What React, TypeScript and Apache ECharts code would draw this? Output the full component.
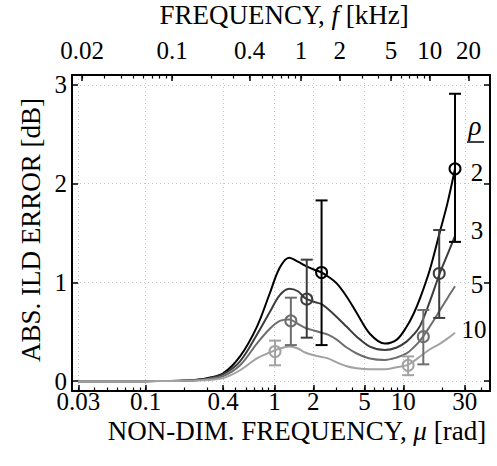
import React, { useEffect, useRef } from "react";
import * as echarts from "echarts";

// ---- data ----
const MU = [0.03, 0.06, 0.1, 0.15, 0.2, 0.25, 0.3, 0.4, 0.54, 0.73, 0.92, 1.1, 1.3, 1.52, 1.73, 2.06, 2.32, 2.6, 3.04, 3.64, 4.35, 5.5, 7.2, 8.9, 10.6, 12, 13.5, 16, 19.3, 22, 25.2];
const RHO2 = [0, 0, 0, 0.002, 0.006, 0.015, 0.03, 0.08, 0.25, 0.55, 0.89, 1.15, 1.25, 1.21, 1.17, 1.125, 1.1, 1.06, 0.99, 0.855, 0.69, 0.48, 0.38, 0.42, 0.55, 0.68, 0.84, 1.12, 1.52, 1.8, 2.15];
const RHO3 = [0, 0, 0, 0.002, 0.005, 0.012, 0.025, 0.07, 0.2, 0.47, 0.7, 0.87, 0.935, 0.91, 0.84, 0.8, 0.78, 0.73, 0.65, 0.55, 0.45, 0.35, 0.315, 0.34, 0.4, 0.47, 0.56, 0.8, 1.1, 1.28, 1.47];
const RHO5 = [0, 0, 0, 0.002, 0.004, 0.009, 0.02, 0.05, 0.16, 0.38, 0.53, 0.61, 0.625, 0.58, 0.54, 0.51, 0.49, 0.47, 0.42, 0.34, 0.28, 0.23, 0.215, 0.24, 0.28, 0.34, 0.41, 0.55, 0.72, 0.84, 0.96];
const RHO10 = [0, 0, 0, 0.001, 0.003, 0.006, 0.012, 0.03, 0.11, 0.23, 0.29, 0.33, 0.35, 0.33, 0.29, 0.26, 0.245, 0.23, 0.19, 0.15, 0.13, 0.12, 0.12, 0.14, 0.16, 0.2, 0.25, 0.32, 0.38, 0.43, 0.49];

// markers: [mu, value, low, high]
const MARK2 = [[2.32, 1.1, 0.365, 1.83], [25.2, 2.15, 1.41, 2.91]];
const MARK3 = [[1.78, 0.83, 0.44, 1.23], [19.0, 1.09, 0.64, 1.53]];
const MARK5 = [[1.34, 0.61, 0.365, 0.845], [14.3, 0.45, 0.17, 0.72]];
const MARK10 = [[1.01, 0.3, 0.16, 0.41], [10.9, 0.16, 0.06, 0.25]];

const RHO_LABELS = ["2", "3", "5", "10"];
const COLORS = ["#000000", "#3c3c3c", "#6e6e6e", "#a2a2a2"];

const BOTTOM_LABELS = [0.03, 0.1, 0.4, 1, 2, 5, 10, 30];
const BOTTOM_MINOR = [0.03, 0.04, 0.05, 0.06, 0.07, 0.08, 0.09, 0.1, 0.2, 0.3, 0.4, 0.5, 0.6, 0.7, 0.8, 0.9, 1, 2, 3, 4, 5, 6, 7, 8, 9, 10, 20, 30, 40];
const TOP_LABELS_KHZ = [0.02, 0.1, 0.4, 1, 2, 5, 10, 20];
const TOP_MINOR_KHZ = [0.02, 0.03, 0.04, 0.05, 0.06, 0.07, 0.08, 0.09, 0.1, 0.2, 0.3, 0.4, 0.5, 0.6, 0.7, 0.8, 0.9, 1, 2, 3, 4, 5, 6, 7, 8, 9, 10, 20];
const Y_TICKS = [0, 1, 2, 3];
const MU_PER_KHZ = 1.603;
const MU_MIN = 0.0268;
const MU_MAX = 47.1;

const FONT = "Liberation Serif";
const FS = 25;
const FS_TITLE = 27;

const lg = (v: number) => Math.log10(v);

function nearestLabel(v: number, labels: number[], scale: number) {
  let best = labels[0];
  let bd = Infinity;
  for (const l of labels) {
    const d = Math.abs(lg(l * scale) - v);
    if (d < bd) {
      bd = d;
      best = l;
    }
  }
  return String(best);
}

export default function App() {
  const ref = useRef<HTMLDivElement>(null);
  useEffect(() => {
    if (!ref.current) return;
    const chart = echarts.init(ref.current, undefined, { renderer: "svg" });
    const xMin = lg(MU_MIN);
    const xMax = lg(MU_MAX);
    const axisLine = (show: boolean) => ({ show, onZero: false, lineStyle: { color: "#000", width: 2 } });
    const labelBase = { fontFamily: FONT, fontSize: FS, color: "#000", lineHeight: 18 };

    const series: any[] = [];
    const curves = [RHO2, RHO3, RHO5, RHO10];
    const marks = [MARK2, MARK3, MARK5, MARK10];
    curves.forEach((vals, k) => {
      series.push({
        type: "line",
        xAxisIndex: 0,
        yAxisIndex: 0,
        data: MU.map((m, i) => [lg(m), vals[i]]),
        showSymbol: false,
        smooth: 0.35,
        lineStyle: { color: COLORS[k], width: 2 },
        z: 5 + k,
      });
    });
    marks.forEach((mk, k) => {
      series.push({
        type: "custom",
        xAxisIndex: 0,
        yAxisIndex: 0,
        data: mk.map((d) => [lg(d[0]), d[2], d[3]]),
        encode: { x: 0, y: [1, 2] },
        z: 12,
        renderItem: (params: any, api: any) => {
          const x = api.value(0);
          const lo = api.coord([x, api.value(1)]);
          const hi = api.coord([x, api.value(2)]);
          const w = 6;
          const st = { stroke: COLORS[k], lineWidth: 2 };
          return {
            type: "group",
            children: [
              { type: "line", shape: { x1: lo[0], y1: lo[1], x2: hi[0], y2: hi[1] }, style: st },
              { type: "line", shape: { x1: lo[0] - w, y1: lo[1], x2: lo[0] + w, y2: lo[1] }, style: st },
              { type: "line", shape: { x1: hi[0] - w, y1: hi[1], x2: hi[0] + w, y2: hi[1] }, style: st },
            ],
          };
        },
      });
      series.push({
        type: "scatter",
        xAxisIndex: 0,
        yAxisIndex: 0,
        data: mk.map((d) => [lg(d[0]), d[1]]),
        symbol: "circle",
        symbolSize: 11,
        itemStyle: { color: "rgba(0,0,0,0)", borderColor: COLORS[k], borderWidth: 2, opacity: 1 },
        z: 13,
      });
    });

    const option: any = {
      animation: false,
      backgroundColor: "#fff",
      grid: { left: 72, right: 7, top: 75, bottom: 75, containLabel: false },
      xAxis: [
        {
          type: "value",
          position: "bottom",
          min: xMin,
          max: xMax,
          axisLine: axisLine(true),
          axisTick: { show: true, inside: true, length: 6, customValues: BOTTOM_LABELS.map(lg), lineStyle: { color: "#000", width: 1.5 } },
          axisLabel: {
            ...labelBase,
            customValues: BOTTOM_LABELS.map(lg),
            margin: 1,
            formatter: (v: number) => nearestLabel(v, BOTTOM_LABELS, 1),
          },
          splitLine: { show: true, lineStyle: { type: [1, 3], color: "#c4c4c4", width: 1 } },
        },
        {
          type: "value",
          position: "top",
          min: xMin,
          max: xMax,
          axisLine: axisLine(true),
          axisTick: { show: true, inside: true, length: 6, customValues: TOP_LABELS_KHZ.map((f) => lg(f * MU_PER_KHZ)), lineStyle: { color: "#000", width: 1.5 } },
          axisLabel: {
            ...labelBase,
            customValues: TOP_LABELS_KHZ.map((f) => lg(f * MU_PER_KHZ)),
            margin: 16,
            formatter: (v: number) => nearestLabel(v, TOP_LABELS_KHZ, MU_PER_KHZ),
          },
          splitLine: { show: false },
        },
        {
          type: "value",
          position: "bottom",
          min: xMin,
          max: xMax,
          axisLine: axisLine(false),
          axisTick: { show: true, inside: true, length: 3.5, customValues: BOTTOM_MINOR.map(lg), lineStyle: { color: "#000", width: 1.2 } },
          axisLabel: { show: false },
          splitLine: { show: false },
        },
        {
          type: "value",
          position: "top",
          min: xMin,
          max: xMax,
          axisLine: axisLine(false),
          axisTick: { show: true, inside: true, length: 3.5, customValues: TOP_MINOR_KHZ.map((f) => lg(f * MU_PER_KHZ)), lineStyle: { color: "#000", width: 1.2 } },
          axisLabel: { show: false },
          splitLine: { show: false },
        },
      ],
      yAxis: [
        {
          type: "value",
          position: "left",
          min: -0.1,
          max: 3.1,
          axisLine: axisLine(true),
          axisTick: { show: true, inside: true, length: 6, customValues: Y_TICKS, lineStyle: { color: "#000", width: 1.5 } },
          axisLabel: { ...labelBase, lineHeight: 16, customValues: Y_TICKS, margin: 5, formatter: (v: number) => String(Math.round(v)) },
          splitLine: { show: true, lineStyle: { type: [1, 3], color: "#c4c4c4", width: 1 } },
        },
        {
          type: "value",
          position: "right",
          min: -0.1,
          max: 3.1,
          axisLine: axisLine(true),
          axisTick: { show: true, inside: true, length: 6, customValues: Y_TICKS, lineStyle: { color: "#000", width: 1.5 } },
          axisLabel: { show: false },
          splitLine: { show: false },
        },
      ],
      series,
      graphic: [
        {
          type: "text",
          x: 284,
          y: 15,
          style: {
            text: "{a|FREQUENCY, }{i|f}{a| [kHz]}",
            rich: {
              a: { fontFamily: FONT, fontSize: FS_TITLE, fill: "#000" },
              i: { fontFamily: FONT, fontSize: FS_TITLE, fontStyle: "italic", fill: "#000" },
            },
            align: "center",
            verticalAlign: "middle",
          },
        },
        {
          type: "text",
          x: 297,
          y: 431,
          style: {
            text: "{a|NON-DIM. FREQUENCY, }{i|μ}{a| [rad]}",
            rich: {
              a: { fontFamily: FONT, fontSize: FS_TITLE, fill: "#000" },
              i: { fontFamily: FONT, fontSize: FS_TITLE, fontStyle: "italic", fill: "#000" },
            },
            align: "center",
            verticalAlign: "middle",
          },
        },
        {
          type: "text",
          x: 31,
          y: 230,
          rotation: Math.PI / 2,
          style: {
            text: "ABS. ILD ERROR [dB]",
            fontFamily: FONT,
            fontSize: FS_TITLE,
            fill: "#000",
            align: "center",
            verticalAlign: "middle",
          },
        },
        {
          type: "text",
          x: 475,
          y: 126,
          style: { text: "ρ", fontFamily: FONT, fontSize: FS_TITLE, fontStyle: "italic", fill: "#000", align: "center", verticalAlign: "middle" },
        },
        { type: "line", shape: { x1: 467, y1: 142, x2: 484, y2: 142 }, style: { stroke: "#000", lineWidth: 1.5 } },
        ...RHO_LABELS.map((t, k) => ({
          type: "text",
          x: [477, 477, 477, 474][k],
          y: [172, 230, 284, 329][k],
          style: { text: t, fontFamily: FONT, fontSize: FS, fill: "#000", align: "center", verticalAlign: "middle" },
        })),
      ],
    };
    chart.setOption(option);
    return () => chart.dispose();
  }, []);
  return <div ref={ref} style={{ position: "fixed", left: 0, top: 0, width: 497, height: 466, background: "#fff" }} />;
}
